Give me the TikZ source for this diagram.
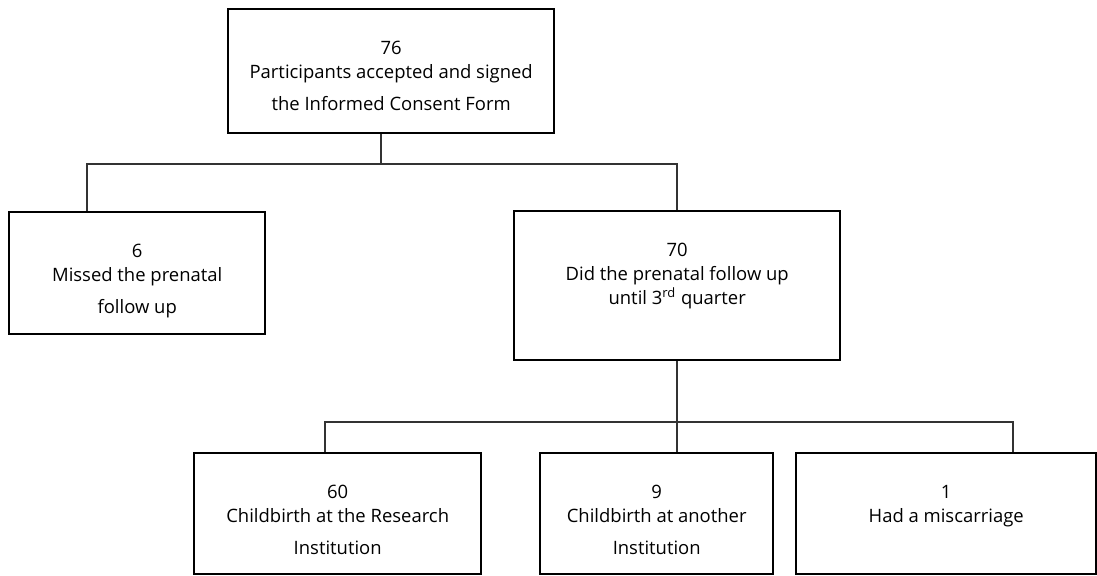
\documentclass[tikz,border=0pt]{standalone}
\usepackage{fontspec}
\setmainfont{Open Sans}
\usetikzlibrary{positioning,calc}

% box text: width, height, lines (first baseline fixed below the top edge)
\newcommand{\boxtext}[3]{\parbox[c][#2][t]{#1}{\centering\fontsize{10.5}{13.6}\selectfont\rule{0pt}{0.9cm}#3}}

\begin{document}
\begin{tikzpicture}[
    x=0.02cm, y=-0.02cm,
    flowbox/.style={draw, line width=1.4pt, inner sep=0pt, anchor=north west},
    link/.style={line width=0.85pt, draw=black!80}
  ]
    \useasboundingbox (0,0) rectangle (1097,575);

    \node[flowbox] (consent) at (227,8) {\boxtext{6.52cm}{2.48cm}{76\\Participants accepted and signed\\[0.16cm]the Informed Consent Form}};
    \node[flowbox] (missed) at (8,211) {\boxtext{5.12cm}{2.44cm}{6\\Missed the prenatal\\[0.16cm]follow up}};
    \node[flowbox] (prenatal) at (513,210) {\boxtext{6.52cm}{2.98cm}{70\\Did the prenatal follow up\\until 3\textsuperscript{rd} quarter}};
    \node[flowbox] (research) at (193,452) {\boxtext{5.74cm}{2.42cm}{60\\Childbirth at the Research\\[0.16cm]Institution}};
    \node[flowbox] (another) at (539,452) {\boxtext{4.66cm}{2.42cm}{9\\Childbirth at another\\[0.16cm]Institution}};
    \node[flowbox] (miscarriage) at (795,452) {\boxtext{6.0cm}{2.42cm}{1\\Had a miscarriage}};

    \coordinate (bar1) at (0,164);
    \coordinate (bar2) at (0,422);

    \draw[link] ([xshift=-0.2cm]consent.south) -- ([xshift=-0.2cm]consent.south |- bar1);
    \draw[link] ([xshift=-1cm]missed.north) |- (bar1 -| prenatal.north) -- (prenatal.north);
    \draw[link] (prenatal.south) -- (prenatal.south |- another.north);
    \draw[link] ([xshift=-0.25cm]research.north) |- ([xshift=1.34cm]miscarriage.north |- bar2) -- ([xshift=1.34cm]miscarriage.north);
  \end{tikzpicture}
\end{document}
